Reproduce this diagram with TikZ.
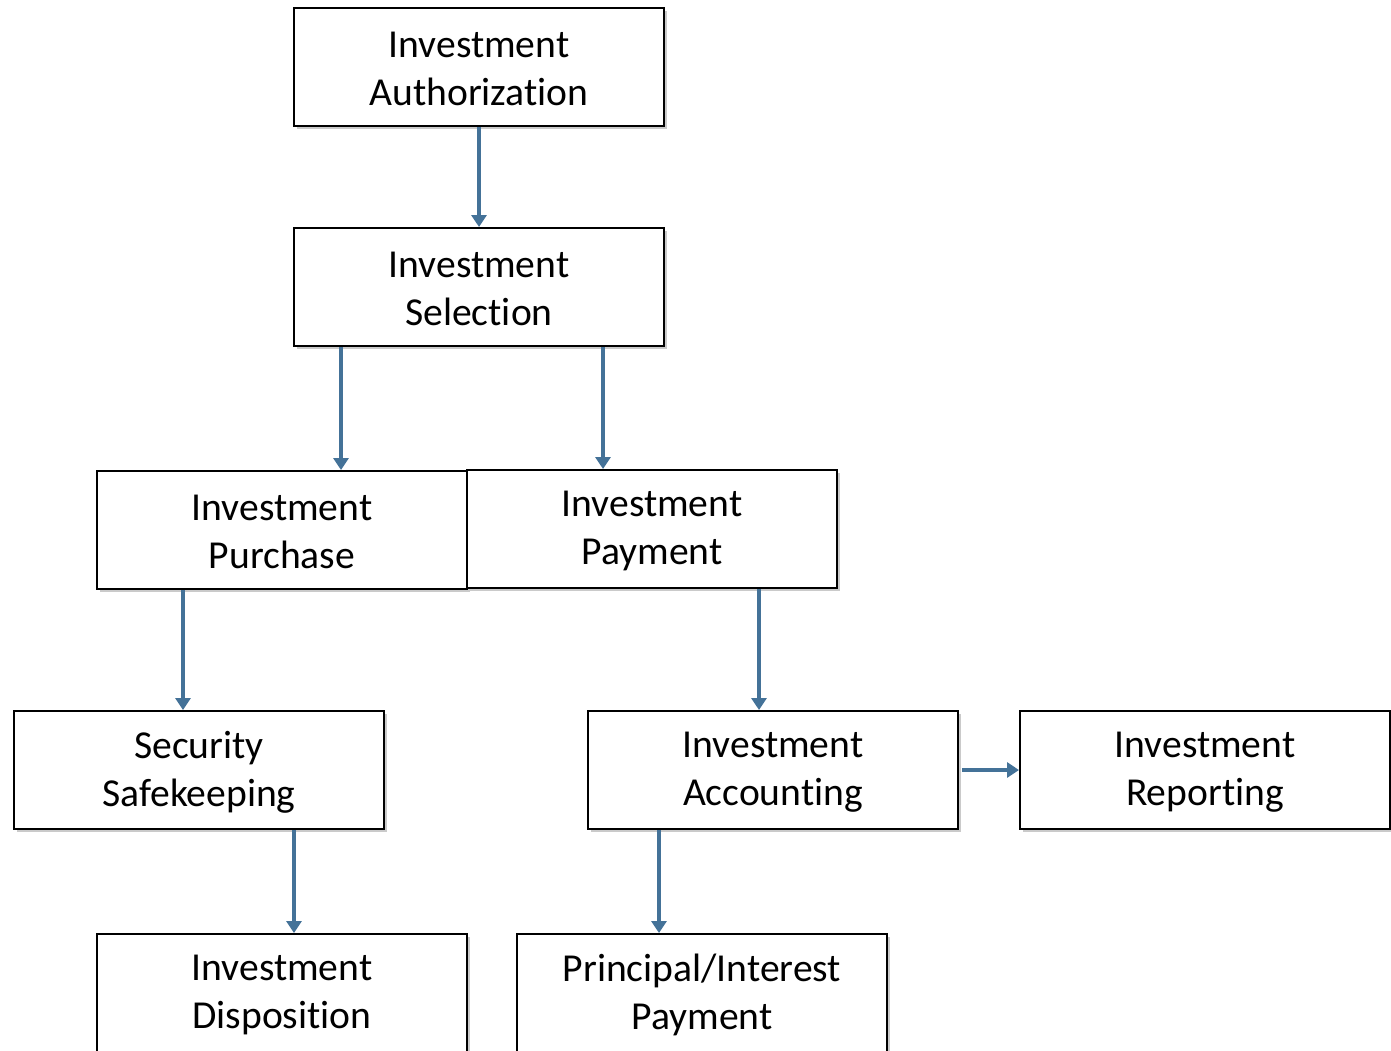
\documentclass[tikz,border=0pt]{standalone}
\usepackage{fontspec}
\setmainfont[Ligatures={NoCommon,NoContextual}]{Carlito}
\usetikzlibrary{arrows.meta,shadows}
\definecolor{arrblue}{RGB}{68,114,152}
\tikzset{
  box/.style={draw=black, line width=2pt, fill=white, minimum width=370pt, minimum height=118pt,
    inner sep=0pt,
    drop shadow={shadow xshift=2.5pt, shadow yshift=-2.5pt, opacity=0.35, fill=black!60}},
  lbl/.style={align=center, inner sep=0pt, yshift=-2pt, font=\fontsize{39.6}{48}\selectfont},
  arr/.style={draw=arrblue, line width=4.8pt, -{Triangle[width=15pt,length=12pt]}}
}
\begin{document}
\begin{tikzpicture}[x=1pt,y=-1pt]
\useasboundingbox (0,0) rectangle (1391,1050);
\clip (0,0) rectangle (1391,1050);
\node[box, label={[lbl]center:{Investment\\Authorization}}] (auth) at (479,67) {};
\node[box, label={[lbl]center:{Investment\\Selection}}] (sel) at (479,287) {};
\node[box, label={[lbl]center:{Investment\\Purchase}}] (pur) at (282,530) {};
\node[box, label={[lbl]center:{Investment\\Payment}}] (pay) at (652,529) {};
\node[box, label={[lbl]center:{Security\\Safekeeping}}] (safe) at (199,770) {};
\node[box, label={[lbl]center:{Investment\\Accounting}}] (acc) at (773,770) {};
\node[box, label={[lbl]center:{Investment\\Reporting}}] (rep) at (1205,770) {};
\node[box, label={[lbl]center:{Investment\\Disposition}}] (disp) at (282,993) {};
\node[box, label={[lbl]center:{Principal/Interest\\Payment}}] (prin) at (702,993) {};
\coordinate (s1) at ([xshift=-138pt]sel.south);
\coordinate (s2) at ([xshift=124pt]sel.south);
\coordinate (p1) at ([xshift=-99pt]pur.south);
\coordinate (q1) at ([xshift=107pt]pay.south);
\coordinate (k1) at ([xshift=95pt]safe.south);
\coordinate (a1) at ([xshift=-114pt]acc.south);
\draw[arr] (auth.south) -- (sel.north);
\draw[arr] (s1) -- (s1 |- pur.north);
\draw[arr] (s2) -- (s2 |- pay.north);
\draw[arr] (p1) -- (p1 |- safe.north);
\draw[arr] (q1) -- (q1 |- acc.north);
\draw[arr] (k1) -- (k1 |- disp.north);
\draw[arr] (a1) -- (a1 |- prin.north);
\draw[arr] ([xshift=3pt]acc.east) -- (rep.west);
\end{tikzpicture}
\end{document}
